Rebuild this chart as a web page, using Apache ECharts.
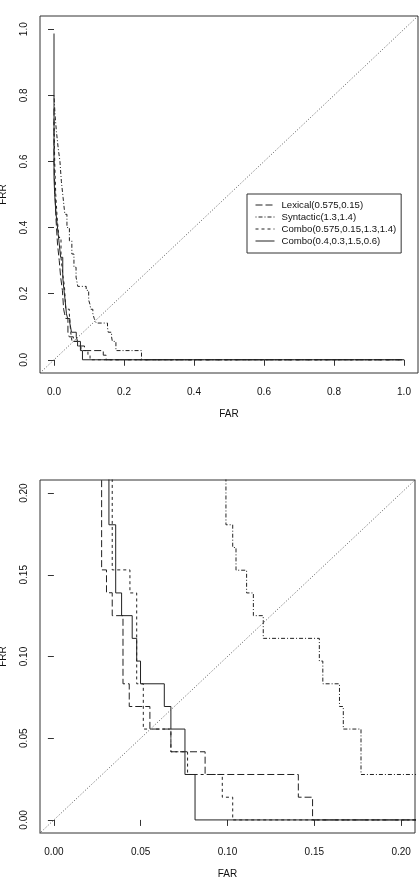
<!DOCTYPE html>
<html>
<head>
<meta charset="utf-8">
<script src="https://cdn.jsdelivr.net/npm/echarts@6/dist/echarts.min.js"></script>
<style>
  html, body { margin: 0; padding: 0; background: #fff; }
  #det_chart { width: 420px; height: 878px; }
</style>
</head>
<body>
<div id="det_chart"></div>
<script>
// DET curves (FAR on x, FRR on y)
const seriesNames = ['Lexical(0.575,0.15)', 'Syntactic(1.3,1.4)', 'Combo(0.575,0.15,1.3,1.4)', 'Combo(0.4,0.3,1.5,0.6)'];

const lexical = [
  [0,0.76],[0,0.6],[0.003,0.6],[0.003,0.5],[0.006,0.5],[0.006,0.42],[0.01,0.42],[0.01,0.35],
  [0.015,0.35],[0.015,0.3],[0.019,0.3],[0.019,0.25],[0.024,0.25],[0.024,0.21],[0.0275,0.21],
  [0.0275,0.153],[0.0303,0.153],[0.0303,0.139],[0.0336,0.139],[0.0336,0.125],[0.0398,0.125],
  [0.0398,0.0833],[0.0434,0.0833],[0.0434,0.0694],[0.0553,0.0694],[0.0553,0.0556],[0.0674,0.0556],
  [0.0674,0.0417],[0.0871,0.0417],[0.0871,0.0278],[0.1408,0.0278],[0.1408,0.0139],[0.149,0.0139],
  [0.149,0],[1,0]
];

const syntactic = [
  [0,0.8],[0.003,0.8],[0.003,0.74],[0.007,0.74],[0.007,0.69],[0.012,0.69],[0.012,0.64],[0.017,0.64],
  [0.017,0.6],[0.021,0.6],[0.021,0.54],[0.026,0.54],[0.026,0.49],[0.031,0.49],[0.031,0.44],[0.037,0.44],
  [0.037,0.4],[0.044,0.4],[0.044,0.36],[0.051,0.36],[0.051,0.32],[0.057,0.32],[0.057,0.28],[0.063,0.28],
  [0.063,0.25],[0.068,0.25],[0.068,0.222],[0.092,0.222],[0.092,0.21],[0.0991,0.21],[0.0991,0.1806],
  [0.103,0.1806],[0.103,0.1667],[0.1049,0.1667],[0.1049,0.1528],[0.111,0.1528],[0.111,0.1389],
  [0.1149,0.1389],[0.1149,0.125],[0.1206,0.125],[0.1206,0.1111],[0.1529,0.1111],[0.1529,0.0972],
  [0.1549,0.0972],[0.1549,0.0833],[0.1645,0.0833],[0.1645,0.0694],[0.1667,0.0694],[0.1667,0.0556],
  [0.1769,0.0556],[0.1769,0.0278],[0.25,0.0278],[0.25,0],[1,0]
];

const comboA = [
  [0,0.72],[0.002,0.72],[0.002,0.6],[0.005,0.6],[0.005,0.5],[0.009,0.5],[0.009,0.43],[0.014,0.43],
  [0.014,0.37],[0.02,0.37],[0.02,0.31],[0.025,0.31],[0.025,0.26],[0.03,0.26],[0.03,0.22],[0.0336,0.22],
  [0.0336,0.153],[0.0438,0.153],[0.0438,0.1389],[0.0477,0.1389],[0.0477,0.0833],[0.0515,0.0833],
  [0.0515,0.0556],[0.0674,0.0556],[0.0674,0.0417],[0.077,0.0417],[0.077,0.0278],[0.097,0.0278],
  [0.097,0.0139],[0.103,0.0139],[0.103,0],[1,0]
];

const comboB = [
  [0,0.987],[0,0.55],[0.002,0.55],[0.002,0.5],[0.005,0.5],[0.005,0.45],[0.009,0.45],[0.009,0.41],
  [0.014,0.41],[0.014,0.36],[0.019,0.36],[0.019,0.31],[0.025,0.31],[0.025,0.25],[0.0286,0.25],
  [0.0286,0.21],[0.0317,0.21],[0.0317,0.1806],[0.0356,0.1806],[0.0356,0.1389],[0.039,0.1389],
  [0.039,0.125],[0.0451,0.125],[0.0451,0.1111],[0.0477,0.1111],[0.0477,0.0972],[0.0499,0.0972],
  [0.0499,0.0833],[0.0636,0.0833],[0.0636,0.0694],[0.0674,0.0694],[0.0674,0.0556],[0.0755,0.0556],
  [0.0755,0.0278],[0.0813,0.0278],[0.0813,0],[1,0]
];

// y = x reference line
const diagonal = [[-1,-1],[2,2]];

const ticksFull = [0, 0.2, 0.4, 0.6, 0.8, 1.0];
const ticksZoom = [0, 0.05, 0.1, 0.15, 0.2];

const font = 'Liberation Sans, Arial, Helvetica, sans-serif';
const ink = '#111';
const curveStyles = [
  { type: [7, 3] },
  { type: [1, 2, 4, 2] },
  { type: [3, 3] },
  { type: 'solid' }
];
const curveData = [lexical, syntactic, comboA, comboB];

function valueAxis(grid, lo, hi, ticks, digits, name, isY) {
  return {
    type: 'value',
    gridIndex: grid,
    min: lo,
    max: hi,
    name: name,
    nameLocation: 'middle',
    nameGap: isY ? 32 : 36,
    nameTextStyle: { fontFamily: font, fontSize: 10, color: ink },
    axisLine: { show: false },
    splitLine: { show: false },
    axisTick: { show: true, length: 6, customValues: ticks, lineStyle: { color: '#333' } },
    axisLabel: {
      customValues: ticks,
      formatter: v => v.toFixed(digits),
      fontFamily: font,
      fontSize: 10,
      color: ink,
      margin: isY ? 11 : 14,
      rotate: isY ? 90 : 0
    }
  };
}

let series = [];
[0, 1].forEach(g => {
  curveData.forEach((d, i) => {
    series.push({
      name: seriesNames[i],
      type: 'line',
      xAxisIndex: g,
      yAxisIndex: g,
      data: d,
      symbol: 'none',
      silent: true,
      color: '#222',
      lineStyle: { color: '#222', width: 1, type: curveStyles[i].type }
    });
  });
  series.push({
    name: 'chance',
    type: 'line',
    xAxisIndex: g,
    yAxisIndex: g,
    data: diagonal,
    symbol: 'none',
    silent: true,
    lineStyle: { color: '#555', width: 1, type: [1, 2] }
  });
});

const options = {
  animation: false,
  backgroundColor: '#fff',
  grid: [
    { left: 40, top: 16, width: 378, height: 357, show: true, borderColor: '#333', borderWidth: 1, outerBoundsMode: 'none', containLabel: false },
    { left: 40, top: 480, width: 375, height: 353, show: true, borderColor: '#333', borderWidth: 1, outerBoundsMode: 'none', containLabel: false }
  ],
  xAxis: [
    valueAxis(0, -0.04, 1.04, ticksFull, 1, 'FAR', false),
    valueAxis(1, -0.008, 0.208, ticksZoom, 2, 'FAR', false)
  ],
  yAxis: [
    valueAxis(0, -0.04, 1.04, ticksFull, 1, 'FRR', true),
    valueAxis(1, -0.008, 0.208, ticksZoom, 2, 'FRR', true)
  ],
  legend: {
    data: seriesNames,
    orient: 'vertical',
    left: 247,
    top: 194,
    itemWidth: 19,
    itemHeight: 10,
    itemGap: 2,
    padding: [6, 5, 7, 8],
    borderColor: '#333',
    borderWidth: 1,
    selectedMode: false,
    itemStyle: { opacity: 0 },
    lineStyle: { width: 1 },
    textStyle: { fontFamily: font, fontSize: 9.6, color: ink, padding: [0, 0, 0, 2] }
  },
  series: series
};

let chart = echarts.init(document.getElementById('det_chart'));
chart.setOption(options);
</script>
</body>
</html>
